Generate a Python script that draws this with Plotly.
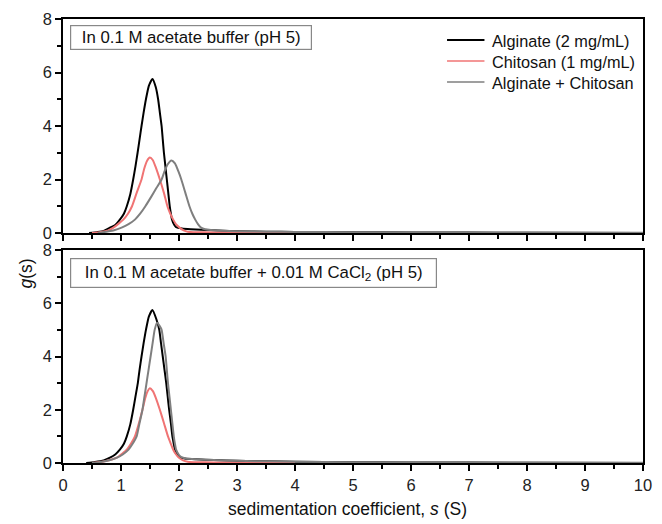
import plotly.graph_objects as go

# ---- data ----
# Top panel: 0.1 M acetate buffer (pH 5)
s_alg_top = [0.45, 0.6, 0.7, 0.81, 0.9, 0.98, 1.05, 1.10, 1.16, 1.21, 1.25, 1.286, 1.32, 1.354, 1.39, 1.43, 1.48, 1.543,
             1.60, 1.64, 1.67, 1.70, 1.72, 1.74, 1.765, 1.79, 1.815, 1.84, 1.86, 1.88, 1.92, 1.95, 2.05, 2.2, 2.5,
             3.0, 3.5, 4.0, 5.0, 6.0, 7.0, 8.0, 10.0]
g_alg_top = [0.0, 0.04, 0.08, 0.2, 0.3, 0.5, 0.72, 1.0, 1.45, 2.0, 2.5, 3.0, 3.5, 4.0, 4.5, 5.0, 5.5, 5.76,
             5.45, 5.0, 4.5, 4.0, 3.5, 3.0, 2.5, 2.0, 1.5, 1.0, 0.72, 0.5, 0.3, 0.22, 0.17, 0.14, 0.11,
             0.07, 0.05, 0.04, 0.03, 0.02, 0.015, 0.01, 0.0]

s_chi_top = [0.5, 0.65, 0.78, 0.87, 0.96, 1.04, 1.12, 1.19, 1.27, 1.354, 1.40, 1.45, 1.497, 1.55, 1.60, 1.67, 1.74,
             1.80, 1.85, 1.90, 1.95, 2.01, 2.08, 2.15, 2.3, 2.6, 3.0, 4.0]
g_chi_top = [0.0, 0.04, 0.1, 0.2, 0.35, 0.5, 0.72, 1.0, 1.5, 2.0, 2.4, 2.7, 2.82, 2.72, 2.45, 2.0, 1.5,
             1.0, 0.72, 0.5, 0.32, 0.2, 0.1, 0.05, 0.03, 0.02, 0.01, 0.0]

s_mix_top = [0.6, 0.75, 0.88, 1.01, 1.13, 1.24, 1.33, 1.42, 1.52, 1.61, 1.70, 1.75, 1.80, 1.87, 1.93, 1.99, 2.04,
             2.11, 2.18, 2.23, 2.28, 2.33, 2.38, 2.45, 2.55, 2.7, 3.0, 3.5, 4.0, 5.0, 6.0, 8.0, 10.0]
g_mix_top = [0.0, 0.05, 0.1, 0.2, 0.33, 0.5, 0.72, 1.0, 1.35, 1.68, 2.0, 2.3, 2.55, 2.71, 2.6, 2.3, 2.0,
             1.5, 1.0, 0.72, 0.5, 0.32, 0.2, 0.14, 0.11, 0.09, 0.07, 0.05, 0.04, 0.03, 0.02, 0.015, 0.01]

# Bottom panel: 0.1 M acetate buffer + 0.01 M CaCl2 (pH 5)
s_alg_bot = [0.4, 0.55, 0.7, 0.81, 0.9, 0.98, 1.05, 1.10, 1.16, 1.21, 1.25, 1.29, 1.32, 1.354, 1.39, 1.43, 1.48, 1.543,
             1.61, 1.66, 1.69, 1.72, 1.75, 1.78, 1.805, 1.83, 1.86, 1.886, 1.91, 1.93, 1.97, 2.01, 2.1, 2.3, 2.6,
             3.0, 4.0, 5.0, 6.0, 8.0, 10.0]
g_alg_bot = [0.0, 0.04, 0.1, 0.2, 0.32, 0.5, 0.72, 1.0, 1.45, 2.0, 2.5, 3.0, 3.5, 4.0, 4.5, 5.0, 5.5, 5.75,
             5.4, 5.0, 4.5, 4.0, 3.5, 3.0, 2.5, 2.0, 1.5, 1.0, 0.72, 0.5, 0.3, 0.22, 0.17, 0.14, 0.11,
             0.08, 0.05, 0.03, 0.02, 0.01, 0.0]

s_chi_bot = [0.5, 0.7, 0.85, 0.93, 1.02, 1.10, 1.17, 1.24, 1.31, 1.37, 1.42, 1.46, 1.497, 1.55, 1.60, 1.67, 1.74,
             1.81, 1.86, 1.90, 1.95, 2.0, 2.07, 2.15, 2.3, 2.6, 3.0, 4.0]
g_chi_bot = [0.0, 0.06, 0.14, 0.2, 0.35, 0.5, 0.72, 1.0, 1.5, 2.0, 2.45, 2.7, 2.81, 2.7, 2.45, 2.0, 1.5,
             1.0, 0.72, 0.5, 0.32, 0.2, 0.1, 0.05, 0.03, 0.02, 0.01, 0.0]

s_mix_bot = [0.5, 0.65, 0.8, 0.93, 1.03, 1.13, 1.20, 1.27, 1.32, 1.37, 1.405, 1.44, 1.475, 1.51, 1.545, 1.58, 1.623,
             1.665, 1.70, 1.735, 1.77, 1.79, 1.81, 1.835, 1.86, 1.885, 1.91, 1.93, 1.95, 2.0, 2.04, 2.12, 2.3,
             2.6, 3.0, 4.0, 5.0, 7.0, 10.0]
g_mix_bot = [0.0, 0.04, 0.1, 0.2, 0.32, 0.5, 0.72, 1.0, 1.5, 2.0, 2.5, 3.0, 3.5, 4.0, 4.5, 5.0, 5.27,
             5.15, 5.0, 4.5, 4.0, 3.5, 3.0, 2.5, 2.0, 1.5, 1.0, 0.72, 0.5, 0.3, 0.22, 0.17, 0.14,
             0.11, 0.08, 0.05, 0.03, 0.02, 0.01]

series_names = ["Alginate (2 mg/mL)", "Chitosan (1 mg/mL)", "Alginate + Chitosan"]
x_ticks = [0, 1, 2, 3, 4, 5, 6, 7, 8, 9, 10]
y_ticks = [0, 2, 4, 6, 8]

# ---- styling ----
colors = ["#000000", "#f07474", "#7f7f7f"]
FONT = "Arial, Liberation Sans, sans-serif"
W, H = 662, 524
ml, mr, mt, mb = 63, 10, 19, 61
ph = H - mt - mb
pw = W - ml - mr

def py(pix):
    return (H - mb - pix) / ph

def px(pix):
    return (pix - ml) / pw

fig = go.Figure()
top = [(s_alg_top, g_alg_top), (s_chi_top, g_chi_top), (s_mix_top, g_mix_top)]
bot = [(s_alg_bot, g_alg_bot), (s_chi_bot, g_chi_bot), (s_mix_bot, g_mix_bot)]
for i, (s, g) in enumerate(top):
    fig.add_trace(go.Scatter(x=s, y=g, mode="lines", name=series_names[i],
                             line=dict(color=colors[i], width=2, shape="spline", smoothing=0.5),
                             xaxis="x2", yaxis="y2", showlegend=False))
for i, (s, g) in enumerate(bot):
    fig.add_trace(go.Scatter(x=s, y=g, mode="lines", name=series_names[i],
                             line=dict(color=colors[i], width=2, shape="spline", smoothing=0.5),
                             xaxis="x", yaxis="y", showlegend=False))

axis_common = dict(showline=True, linecolor="black", linewidth=1.6, mirror=True,
                   ticks="outside", ticklen=6, tickwidth=1.5, tickcolor="black",
                   showgrid=False, zeroline=False,
                   tickfont=dict(family=FONT, size=16.5, color="#222"))
minor_x = dict(dtick=0.5, tick0=0, ticks="outside", ticklen=4, tickwidth=1.5, tickcolor="black")
minor_y = dict(dtick=1, tick0=0, ticks="outside", ticklen=4, tickwidth=1.5, tickcolor="black")

fig.update_layout(
    width=W, height=H,
    margin=dict(l=ml, r=mr, t=mt, b=mb),
    paper_bgcolor="white", plot_bgcolor="white",
    font=dict(family=FONT, size=15, color="#111"),
    xaxis=dict(range=[0, 10], tickvals=x_ticks, domain=[0, 1], anchor="y", minor=minor_x, **axis_common),
    yaxis=dict(range=[0, 8], tickvals=y_ticks, domain=[0, py(250)], anchor="x", minor=minor_y, **axis_common),
    xaxis2=dict(range=[0, 10], tickvals=x_ticks, domain=[0, 1], anchor="y2", showticklabels=False,
                matches="x", minor=minor_x, **axis_common),
    yaxis2=dict(range=[0, 8], tickvals=y_ticks, domain=[py(233), 1], anchor="x2", minor=minor_y, **axis_common),
    showlegend=False,
)

# legend (drawn in the top panel's upper-right corner)
leg_rows = [40, 61, 82]
for i, name in enumerate(series_names):
    fig.add_shape(type="line", xref="paper", yref="paper",
                  x0=px(453), x1=px(491), y0=py(leg_rows[i]), y1=py(leg_rows[i]),
                  line=dict(color=colors[i], width=2 if i == 0 else 1.6))
    fig.add_annotation(text=name, xref="paper", yref="paper", x=px(497), y=py(leg_rows[i] + 1),
                       xanchor="left", yanchor="middle", showarrow=False,
                       font=dict(family=FONT, size=16.3, color="#111"))

fig.add_annotation(text="In 0.1 M acetate buffer (pH 5)", xref="paper", yref="paper",
                   x=px(70), y=py(25), xanchor="left", yanchor="top", showarrow=False,
                   width=238, height=21, align="center", valign="middle",
                   font=dict(family=FONT, size=16.8, color="#111"),
                   bordercolor="#888", borderwidth=1.2, borderpad=1, bgcolor="white")
fig.add_annotation(text="In 0.1 M acetate buffer + 0.01 M CaCl<sub>2</sub> (pH 5)", xref="paper", yref="paper",
                   x=px(70), y=py(258), xanchor="left", yanchor="top", showarrow=False,
                   width=363, height=26, align="center", valign="middle",
                   font=dict(family=FONT, size=16.8, color="#111"),
                   bordercolor="#888", borderwidth=1.2, borderpad=1, bgcolor="white")
fig.add_annotation(text="<i>g</i>(s)", xref="paper", yref="paper",
                   x=px(25), y=py(274), xanchor="center", yanchor="middle", showarrow=False,
                   textangle=-90, font=dict(family=FONT, size=17.5, color="#111"))
fig.add_annotation(text="sedimentation coefficient, <i>s</i> (S)", xref="paper", yref="paper",
                   x=px(352), y=py(509), xanchor="center", yanchor="middle", showarrow=False,
                   font=dict(family=FONT, size=17.5, color="#111"))

fig.write_html("out.html")
